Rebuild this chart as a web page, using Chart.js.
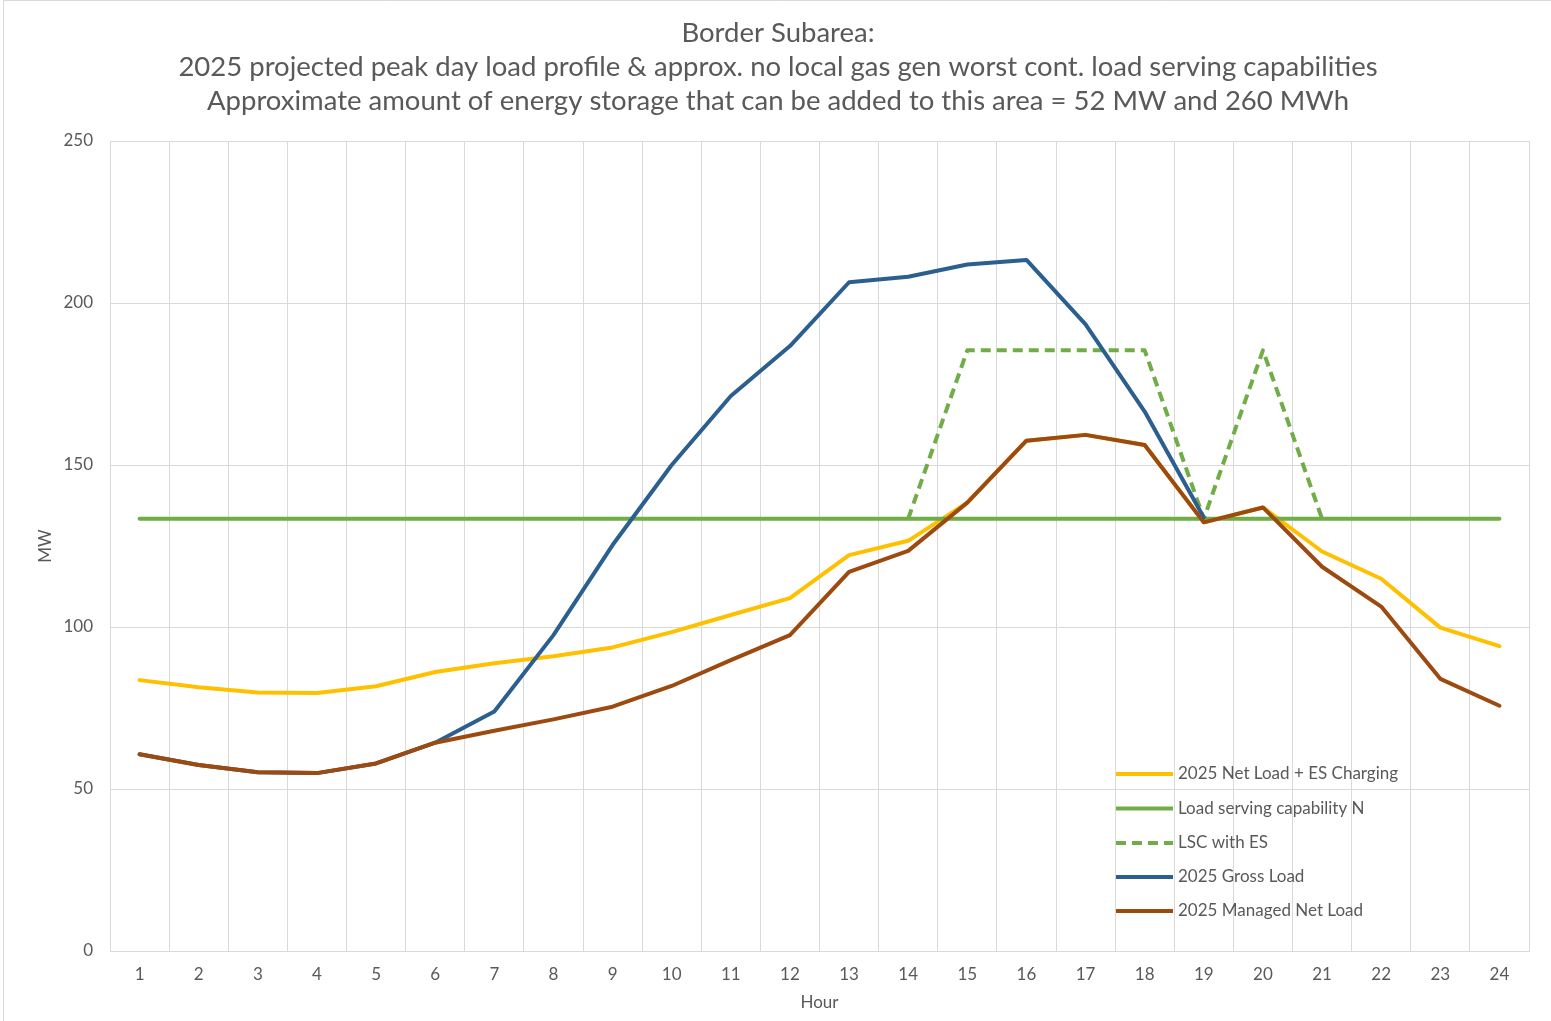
<!DOCTYPE html>
<html>
<head>
<meta charset="utf-8">
<script src="https://cdn.jsdelivr.net/npm/chart.js@4.4.1/dist/chart.umd.min.js"></script>
<style>
  html, body { margin: 0; padding: 0; background: #ffffff; }
  #wrap { width: 1551px; height: 1021px; }
</style>
</head>
<body>
<div id="wrap"><canvas id="c" width="1551" height="1021"></canvas></div>
<script>
const hours = ['1','2','3','4','5','6','7','8','9','10','11','12','13','14','15','16','17','18','19','20','21','22','23','24'];
const yTicks = [0, 50, 100, 150, 200, 250];

const titleLines = [
  'Border Subarea:',
  '2025 projected peak day load profile & approx. no local gas gen worst cont. load serving capabilities',
  'Approximate amount of energy storage that can be added to this area = 52 MW and 260 MWh'
];

const netLoadEsCharging = [83.6, 81.4, 79.8, 79.6, 81.7, 86.1, 88.8, 91.0, 93.7, 98.4, 103.7, 108.9, 122.2, 126.6, 138.4, 157.5, 159.3, 156.2, 132.3, 136.9, 123.3, 114.9, 99.8, 94.1];
const loadServingCapN = [133.4, 133.4, 133.4, 133.4, 133.4, 133.4, 133.4, 133.4, 133.4, 133.4, 133.4, 133.4, 133.4, 133.4, 133.4, 133.4, 133.4, 133.4, 133.4, 133.4, 133.4, 133.4, 133.4, 133.4];
const lscWithEs = [null, null, null, null, null, null, null, null, null, null, null, null, null, 133.4, 185.4, 185.4, 185.4, 185.4, 133.4, 185.4, 133.4, null, null, null];
const grossLoad = [60.7, 57.4, 55.2, 54.9, 57.9, 64.3, 73.9, 97.5, 125.3, 150.0, 171.3, 186.7, 206.4, 208.1, 211.9, 213.3, 193.4, 166.5, 133.8, null, null, null, null, null];
const managedNetLoad = [60.7, 57.4, 55.2, 54.9, 57.9, 64.3, 68.0, 71.5, 75.4, 81.8, 89.8, 97.5, 117.0, 123.5, 138.4, 157.5, 159.3, 156.2, 132.3, 136.9, 118.6, 106.3, 84.0, 75.7];

const seriesLabels = ['2025 Net Load + ES Charging', 'Load serving capability N', 'LSC with ES', '2025 Gross Load', '2025 Managed Net Load'];
const seriesColors = ['#FFC000', '#70AD47', '#70AD47', '#2A5F8F', '#9C4A10'];

const FONT = 'Lato, "Open Sans", sans-serif';
const TEXT = '#595959';
const GRID = '#d9d9d9';

function ds(label, data, color, order, dash) {
  return {
    label: label, data: data, borderColor: color, backgroundColor: color,
    borderWidth: 4, pointRadius: 0, pointHoverRadius: 0, tension: 0,
    borderJoinStyle: 'round', borderCapStyle: dash ? 'butt' : 'round',
    borderDash: dash || [], spanGaps: false, order: order, fill: false
  };
}

const frameAndTitle = {
  id: 'frameAndTitle',
  beforeDraw(chart) {
    const ctx = chart.ctx;
    ctx.save();
    ctx.strokeStyle = GRID;
    ctx.lineWidth = 1;
    ctx.beginPath();
    ctx.moveTo(3.5, chart.height);
    ctx.lineTo(3.5, 0.5);
    ctx.lineTo(chart.width, 0.5);
    ctx.stroke();
    ctx.fillStyle = TEXT;
    ctx.textAlign = 'center';
    ctx.textBaseline = 'middle';
    ctx.font = '27.5px ' + FONT;
    const ys = [33, 67, 101];
    titleLines.forEach((t, i) => ctx.fillText(t, 778, ys[i]));
    ctx.restore();
  }
};

const insideLegend = {
  id: 'insideLegend',
  afterDatasetsDraw(chart) {
    const ctx = chart.ctx;
    ctx.save();
    const x0 = 1116, x1 = 1173, tx = 1178;
    const rows = [774, 808.5, 843, 877, 911];
    chart.data.datasets.forEach((d, i) => {
      const y = rows[i];
      ctx.strokeStyle = d.borderColor;
      ctx.lineWidth = 4;
      ctx.lineCap = 'butt';
      ctx.setLineDash(d.borderDash && d.borderDash.length ? [10, 6] : []);
      ctx.beginPath();
      ctx.moveTo(x0, y);
      ctx.lineTo(x1, y);
      ctx.stroke();
      ctx.setLineDash([]);
      ctx.fillStyle = TEXT;
      ctx.font = '17px ' + FONT;
      ctx.textAlign = 'left';
      ctx.textBaseline = 'middle';
      ctx.fillText(d.label, tx, y);
    });
    ctx.restore();
  }
};

new Chart(document.getElementById('c'), {
  type: 'line',
  data: {
    labels: hours,
    datasets: [
      ds(seriesLabels[0], netLoadEsCharging, seriesColors[0], 4),
      ds(seriesLabels[1], loadServingCapN, seriesColors[1], 3),
      ds(seriesLabels[2], lscWithEs, seriesColors[2], 2, [10, 6]),
      ds(seriesLabels[3], grossLoad, seriesColors[3], 1),
      ds(seriesLabels[4], managedNetLoad, seriesColors[4], 0)
    ]
  },
  options: {
    responsive: false,
    animation: false,
    events: [],
    layout: { padding: { top: 141, right: 22, bottom: 0, left: 0 } },
    plugins: { legend: { display: false }, title: { display: false }, tooltip: { enabled: false } },
    scales: {
      x: {
        type: 'category',
        offset: true,
        grid: { offset: true, color: GRID, lineWidth: 1, drawTicks: false },
        border: { color: GRID, width: 1 },
        ticks: { color: TEXT, font: { family: FONT, size: 17 }, padding: 13, maxRotation: 0, autoSkip: false },
        title: { display: true, text: 'Hour', color: TEXT, font: { family: FONT, size: 17 }, padding: { top: 8, bottom: 8 } },
        afterFit(scale) { scale.height = 70; }
      },
      y: {
        min: yTicks[0], max: yTicks[yTicks.length - 1],
        afterBuildTicks(scale) { scale.ticks = yTicks.map(v => ({ value: v })); },
        grid: { color: GRID, lineWidth: 1, drawTicks: false },
        border: { color: GRID, width: 1 },
        ticks: { color: TEXT, font: { family: FONT, size: 17 }, padding: 17 },
        title: { display: true, text: 'MW', color: TEXT, font: { family: FONT, size: 17 }, padding: { top: 35, bottom: 35 } },
        afterFit(scale) { scale.width = 110; }
      }
    }
  },
  plugins: [frameAndTitle, insideLegend]
});
</script>
</body>
</html>
